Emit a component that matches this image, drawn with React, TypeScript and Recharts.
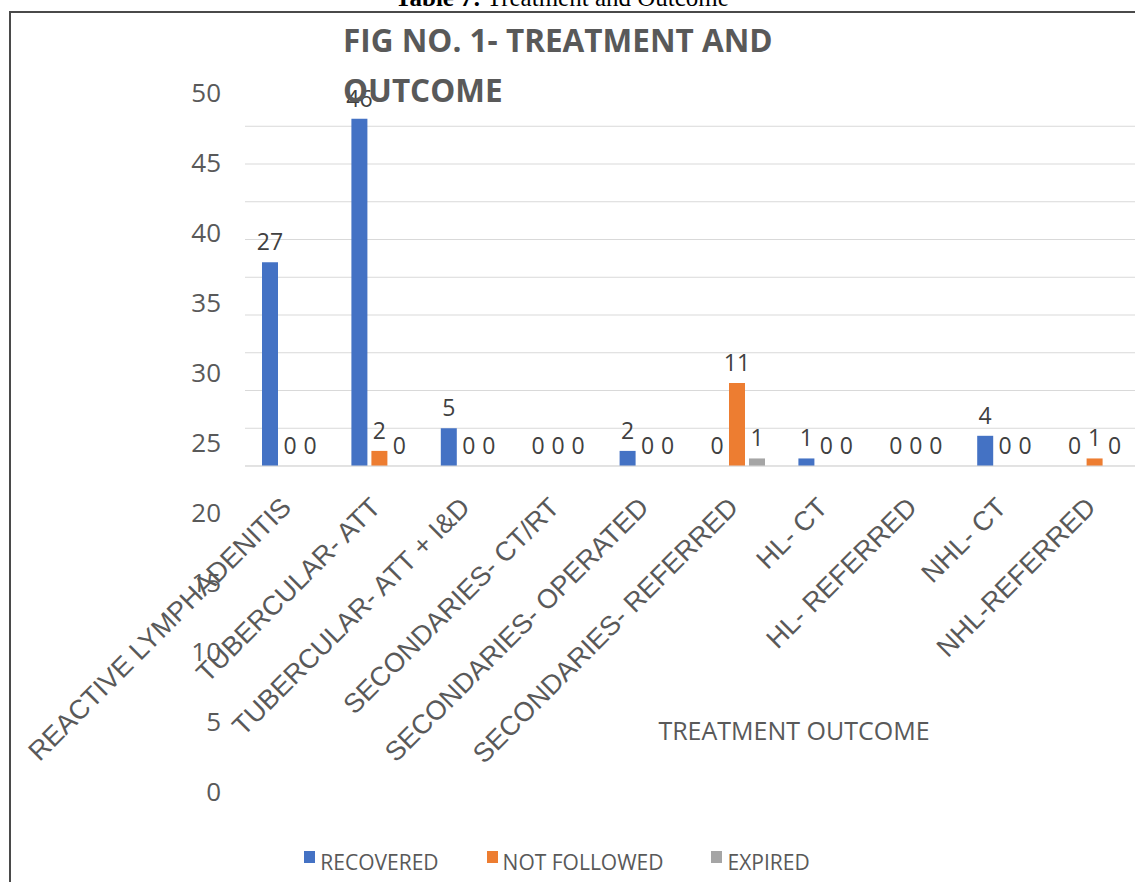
// Treatment and outcome bar chart (three series, rotated category labels)

import { BarChart, Bar, XAxis, YAxis, CartesianGrid, Legend, LabelList, Label } from 'recharts';

const CATEGORIES = [
  'REACTIVE LYMPHADENITIS',
  'TUBERCULAR- ATT',
  'TUBERCULAR- ATT + I&D',
  'SECONDARIES- CT/RT',
  'SECONDARIES- OPERATED',
  'SECONDARIES- REFERRED',
  'HL- CT',
  'HL- REFERRED',
  'NHL- CT',
  'NHL-REFERRED',
];

const SERIES_NAMES = ['RECOVERED', 'NOT FOLLOWED', 'EXPIRED'];

const RECOVERED = [27, 46, 5, 0, 2, 0, 1, 0, 4, 0];
const NOT_FOLLOWED = [0, 2, 0, 0, 0, 11, 0, 0, 0, 1];
const EXPIRED = [0, 0, 0, 0, 0, 1, 0, 0, 0, 0];

// value axis printed on the left (it runs much further down than the bars do)
const Y_TICKS = [0, 5, 10, 15, 20, 25, 30, 35, 40, 45, 50];
// gridlines behind the bars
const GRID_TICKS = [0, 5, 10, 15, 20, 25, 30, 35, 40, 45];

const BLUE = '#4472C4';
const ORANGE = '#ED7D31';
const GRAY = '#A5A5A5';
const TEXT = '#595959';
const SANS = "'Open Sans', sans-serif";

const data = CATEGORIES.map((name, i) => ({
  name,
  recovered: RECOVERED[i],
  notFollowed: NOT_FOLLOWED[i],
  expired: EXPIRED[i],
}));

function CategoryTick({ x, y, payload }: any) {
  const tx = x + 3;
  return (
    <text
      x={tx}
      y={y}
      transform={`rotate(-45, ${tx}, ${y})`}
      textAnchor="end"
      fill={TEXT}
      fontSize={27}
      fontFamily="'Liberation Sans', Arial, sans-serif"
    >
      {payload.value}
    </text>
  );
}

// data label above each bar, zeros included
function ValueLabel({ x, y, width, value }: any) {
  if (value === undefined || value === null) return null;
  return (
    <text
      x={Number(x) + Number(width) / 2}
      y={Number(y) - 12}
      textAnchor="middle"
      fill="#404040"
      fontSize={23}
      fontFamily={SANS}
    >
      {String(value)}
    </text>
  );
}

function LegendContent({ payload }: any) {
  const items = [...(payload || [])].sort(
    (a: any, b: any) => SERIES_NAMES.indexOf(a.value) - SERIES_NAMES.indexOf(b.value)
  );
  return (
    <div
      style={{
        display: 'flex',
        justifyContent: 'center',
        gap: 48,
        fontFamily: SANS,
        fontSize: 21,
        color: TEXT,
      }}
    >
      {items.map((p: any) => (
        <span key={p.value} style={{ display: 'flex', alignItems: 'center' }}>
          <span
            style={{
              width: 11,
              height: 12,
              background: p.color,
              marginRight: 5,
              position: 'relative',
              top: -5,
            }}
          />
          {p.value}
        </span>
      ))}
    </div>
  );
}

export default function App() {
  return (
    <div
      style={{
        position: 'absolute',
        left: 0,
        top: 0,
        width: 1135,
        height: 882,
        overflow: 'hidden',
        background: '#fff',
      }}
    >
      {/* caption of the table above, mostly cut off */}
      <div
        style={{
          position: 'absolute',
          top: -16,
          left: 0,
          width: 1124,
          textAlign: 'center',
          fontFamily: "'Liberation Serif', 'Times New Roman', serif",
          fontSize: 25,
          color: '#000',
          whiteSpace: 'nowrap',
        }}
      >
        <b>Table 7:</b> Treatment and Outcome
      </div>

      {/* frame */}
      <div
        style={{
          position: 'absolute',
          left: 9,
          top: 11,
          width: 1300,
          height: 1000,
          border: '2px solid #4a4a4a',
        }}
      />

      <div style={{ position: 'absolute', left: 0, top: 0 }}>
        <BarChart
          width={1139}
          height={882}
          data={data}
          margin={{ top: 88.5, right: 0, bottom: 0, left: 0 }}
          barSize={16}
          barGap={4}
        >
          <CartesianGrid
            yAxisId="bars"
            vertical={false}
            stroke="#d9d9d9"
            horizontalValues={GRID_TICKS}
          />
          <XAxis
            dataKey="name"
            interval={0}
            height={416}
            tickLine={false}
            tickSize={0}
            tickMargin={43}
            axisLine={{ stroke: '#d9d9d9' }}
            tick={<CategoryTick />}
          >
            <Label
              value="TREATMENT OUTCOME"
              position="insideTop"
              offset={256}
              dx={102}
              style={{ fill: TEXT, fontSize: 25, fontFamily: SANS }}
            />
          </XAxis>
          <YAxis
            yAxisId="bars"
            type="number"
            domain={[0, 50]}
            ticks={GRID_TICKS}
            allowDataOverflow
            width={0}
            hide
          />
          <YAxis
            yAxisId="labels"
            type="number"
            domain={[23.32, 50.32]}
            allowDataOverflow
            ticks={Y_TICKS}
            interval={0}
            width={245}
            axisLine={false}
            tickLine={false}
            tickSize={0}
            tickMargin={24}
            tick={{ fill: TEXT, fontSize: 26, fontFamily: SANS }}
          />
          <Legend
            layout="horizontal"
            verticalAlign="middle"
            align="center"
            wrapperStyle={{ top: 848, left: 0, width: 1114 }}
            content={<LegendContent />}
          />
          <Bar yAxisId="bars" dataKey="recovered" name={SERIES_NAMES[0]} fill={BLUE} minPointSize={0.01} isAnimationActive={false}>
            <LabelList dataKey="recovered" content={<ValueLabel />} />
          </Bar>
          <Bar yAxisId="bars" dataKey="notFollowed" name={SERIES_NAMES[1]} fill={ORANGE} minPointSize={0.01} isAnimationActive={false}>
            <LabelList dataKey="notFollowed" content={<ValueLabel />} />
          </Bar>
          <Bar yAxisId="bars" dataKey="expired" name={SERIES_NAMES[2]} fill={GRAY} minPointSize={0.01} isAnimationActive={false}>
            <LabelList dataKey="expired" content={<ValueLabel />} />
          </Bar>
        </BarChart>
      </div>

      {/* chart title, drawn over the plot as in the original */}
      <div
        style={{
          position: 'absolute',
          left: 343,
          top: 15,
          fontFamily: SANS,
          fontWeight: 700,
          fontSize: 31.5,
          lineHeight: '50px',
          color: TEXT,
          whiteSpace: 'nowrap',
        }}
      >
        FIG NO. 1- TREATMENT AND
        <br />
        OUTCOME
      </div>
    </div>
  );
}
